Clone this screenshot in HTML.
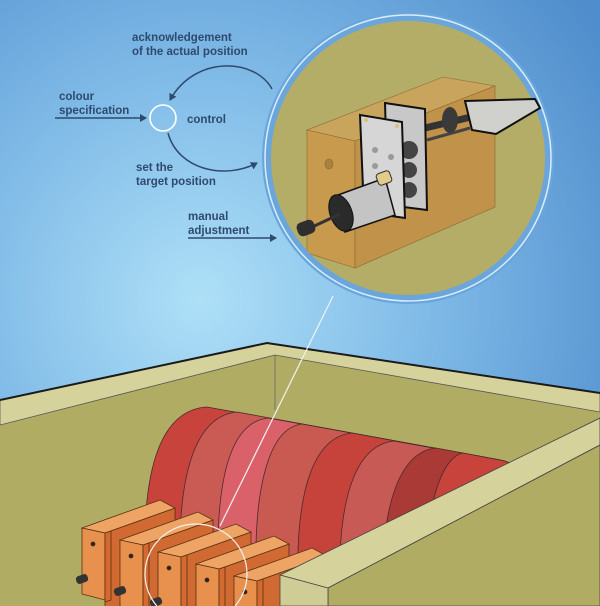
<!DOCTYPE html>
<html><head><meta charset="utf-8"><style>
html,body{margin:0;padding:0;width:600px;height:606px;overflow:hidden}
svg{display:block}
text{font-family:"Liberation Sans",sans-serif;font-weight:bold;font-size:11.5px;fill:#2e4a6e}
</style></head><body>
<svg width="600" height="606" viewBox="0 0 600 606" xmlns="http://www.w3.org/2000/svg">
<defs>
<radialGradient id="bg" cx="200" cy="300" r="480" gradientUnits="userSpaceOnUse">
<stop offset="0" stop-color="#aee0f7"/><stop offset="0.5" stop-color="#7db8e6"/><stop offset="1" stop-color="#4f8dcc"/>
</radialGradient>
<marker id="ah" markerWidth="8" markerHeight="8" refX="6" refY="4" orient="auto" markerUnits="userSpaceOnUse"><path d="M0,0 L7,4 L0,8 Z" fill="#2e4a6e"/></marker>
<clipPath id="cc"><circle cx="408" cy="158" r="137"/></clipPath>
<clipPath id="pg"><rect width="600" height="606"/></clipPath>
</defs>
<g clip-path="url(#pg)">
<rect width="600" height="606" fill="url(#bg)"/>

<text x="132" y="41">acknowledgement</text>
<text x="132" y="55">of the actual position</text>
<text x="59" y="100">colour</text>
<text x="59" y="114">specification</text>
<text x="187" y="123">control</text>
<text x="136" y="171">set the</text>
<text x="136" y="185">target position</text>
<text x="188" y="220">manual</text>
<text x="188" y="234">adjustment</text>
<line x1="55" y1="118" x2="146" y2="118" stroke="#2e4a6e" stroke-width="1.5" marker-end="url(#ah)"/>
<line x1="188" y1="238" x2="276" y2="238" stroke="#2e4a6e" stroke-width="1.5" marker-end="url(#ah)"/>
<circle cx="163" cy="118" r="13" fill="none" stroke="#fff" stroke-width="1.6"/>
<path d="M272,89 C255,58 195,55 170,100" fill="none" stroke="#2e4a6e" stroke-width="1.5" marker-end="url(#ah)"/>
<path d="M168,133 C178,170 225,180 257,163" fill="none" stroke="#2e4a6e" stroke-width="1.5" marker-end="url(#ah)"/>

<circle cx="408" cy="158" r="146" fill="#6aa6dc"/>
<circle cx="408" cy="158" r="143" fill="none" stroke="#d8eefa" stroke-width="1.5"/>
<circle cx="408" cy="158" r="137" fill="#b3ad68"/>
<g clip-path="url(#cc)" stroke="#8a6a30" stroke-width="0.6">
<polygon points="307,130 443,77 495,86 355,141" fill="#c9a45c"/>
<polygon points="307,130 355,141 355,268 307,253" fill="#c79a4e"/>
<polygon points="355,141 495,86 495,207 355,268" fill="#c0924a"/>
<ellipse cx="329" cy="164" rx="4" ry="5" fill="#a98040"/>
</g>
<line x1="425" y1="128" x2="475" y2="116" stroke="#333" stroke-width="7"/>
<line x1="427" y1="140" x2="470" y2="128" stroke="#444" stroke-width="3"/>
<ellipse cx="450" cy="120" rx="8" ry="13" fill="#3a3a3a"/>
<polygon points="465,101 535,99 540,108 496,134 472,130" fill="#d0d0cc" stroke="#111" stroke-width="2"/>
<polygon points="385,103 425,109 427,210 388,205" fill="#c8c8c8" stroke="#111" stroke-width="2"/>
<circle cx="409" cy="150" r="9" fill="#444"/><circle cx="409" cy="170" r="8" fill="#444"/><circle cx="409" cy="190" r="8" fill="#444"/>
<polygon points="360,115 402,122 405,218 364,212" fill="#d6d6d6" stroke="#111" stroke-width="2"/>
<circle cx="375" cy="150" r="3" fill="#999"/><circle cx="391" cy="157" r="3" fill="#999"/><circle cx="375" cy="166" r="3" fill="#999"/>
<circle cx="366" cy="120" r="2" fill="#d8c080"/><circle cx="397" cy="126" r="2" fill="#d8c080"/>
<polygon points="338,195 385,178 395,215 345,232" fill="#c4c4c4" stroke="#111" stroke-width="1.5"/>
<ellipse cx="341" cy="213" rx="11" ry="19" fill="#2a2a2a" stroke="#111" transform="rotate(-20 341 213)"/>
<line x1="340" y1="214" x2="310" y2="228" stroke="#333" stroke-width="3"/>
<rect x="297" y="221" width="18" height="14" rx="5" fill="#2e2e2e" transform="rotate(-20 306 228)"/>
<rect x="377" y="172" width="14" height="12" rx="3" fill="#e2cc8a" stroke="#333" transform="rotate(-20 384 178)"/>

<polygon points="0,400 267,343 600,393 600,606 0,606" fill="#b0ac64"/>
<polygon points="0,400 267,343 600,393 600,412 275,355 0,425" fill="#d5d29c" stroke="#555" stroke-width="0.8"/>
<polyline points="0,400 267,343 600,393" fill="none" stroke="#1a1a1a" stroke-width="2"/>
<line x1="275" y1="355" x2="275" y2="410" stroke="#666" stroke-width="0.8"/>

<g stroke="#4a2a2a" stroke-width="0.8">
<path d="M145,560 C143,470 160,410 207,407 L500,460 C512,462 518,468 520,474 L520,606 L145,606 Z" fill="#c8433b"/>
<path d="M180,565 C178,475 195,416 237,412 L500,460 C512,462 518,468 520,474 L520,606 L180,606 Z" fill="#c95a54"/>
<path d="M218,570 C216,480 230,422 268,418 L500,460 C512,462 518,468 520,474 L520,606 L218,606 Z" fill="#da616a"/>
<path d="M256,575 C254,490 268,428 302,424 L500,460 C512,462 518,468 520,474 L520,606 L256,606 Z" fill="#c95a52"/>
<path d="M298,580 C296,495 312,437 352,433 L500,460 C512,462 518,468 520,474 L520,606 L298,606 Z" fill="#c6433b"/>
<path d="M340,585 C338,500 355,445 394,441 L500,460 C512,462 518,468 520,474 L520,606 L340,606 Z" fill="#c85a55"/>
<path d="M383,590 C381,510 398,452 436,448 L500,460 C512,462 518,468 520,474 L520,606 L383,606 Z" fill="#a93a36"/>
<path d="M425,595 C423,515 440,457 463,453 L500,460 C512,462 518,468 520,474 L520,606 L425,606 Z" fill="#c8433b"/>
</g>

<g stroke="#5a3010" stroke-width="0.8">
<g id="blk">
<polygon points="105,533 175,508 175,600 105,625" fill="#d06a32"/>
<polygon points="82,528 160,500 175,508 105,533" fill="#eda464"/>
<polygon points="82,528 105,533 105,600 82,594" fill="#e8914e"/>
<polygon points="105,533 111,531 111,600 105,602" fill="#d46a30"/>
<circle cx="93" cy="544" r="2" fill="#222"/>
</g>
<use href="#blk" transform="translate(38,12)"/>
<use href="#blk" transform="translate(76,24)"/>
<use href="#blk" transform="translate(114,36)"/>
<use href="#blk" transform="translate(152,48)"/>
</g>
<g fill="#333"><rect x="76" y="575" width="12" height="8" rx="3" transform="rotate(-20 82 579)"/>
<rect x="114" y="587" width="12" height="8" rx="3" transform="rotate(-20 120 591)"/>
<rect x="150" y="598" width="12" height="8" rx="3" transform="rotate(-20 156 602)"/></g>

<polygon points="280,575 600,418 600,445 328,588" fill="#d5d29c" stroke="#444" stroke-width="0.8"/>
<polygon points="328,588 600,445 600,606 328,606" fill="#b0ac64" stroke="#444" stroke-width="0.8"/>
<polygon points="280,575 328,588 328,606 280,606" fill="#d0cc95" stroke="#444" stroke-width="0.8"/>

<ellipse cx="196" cy="574" rx="51" ry="50" fill="none" stroke="#f2f2f2" stroke-width="1.2"/>
<line x1="220" y1="526" x2="333" y2="296" stroke="#f2f2f2" stroke-width="1.2"/>
</g>
</svg>
</body></html>
